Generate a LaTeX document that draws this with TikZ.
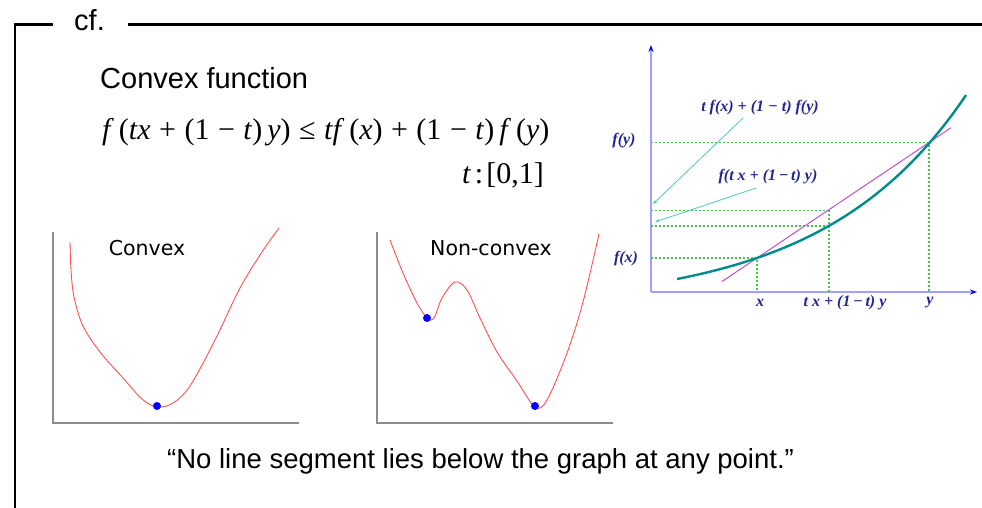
\documentclass[tikz,border=0pt]{standalone}
\usepackage{fontspec}
\setmainfont{Liberation Sans}
\newfontfamily\tnr{Liberation Serif}
\newfontfamily\verd{DejaVu Sans}
\usetikzlibrary{arrows.meta,calc}
\definecolor{navyl}{RGB}{35,35,145}
\definecolor{tealc}{RGB}{0,140,140}
\definecolor{arrc}{RGB}{80,195,195}
\definecolor{magc}{RGB}{195,80,195}
\definecolor{dotg}{RGB}{70,200,70}
\definecolor{axb}{RGB}{160,160,255}
\definecolor{redc}{RGB}{255,80,80}
\newcommand{\opgap}{\hspace{8.5pt}}
\newcommand{\smgap}{\hspace{5pt}}
\begin{document}
\begin{tikzpicture}[x=1pt,y=-1pt,
  frameline/.style={line width=2.7pt,black},
  smallaxis/.style={draw=black!45,line width=1.1pt},
  redcurve/.style={draw=redc,line width=0.9pt},
  mindot/.style={circle,fill=blue,inner sep=0pt,minimum size=8pt},
  plotlabel/.style={font=\verd\fontsize{20.5}{24}\selectfont},
  bluaxis/.style={draw=axb,line width=1.3pt,-{Stealth[length=7pt,width=5pt,color=blue]}},
  greendot/.style={draw=dotg,line width=1.2pt,dash pattern=on 2pt off 2pt},
  gl/.style={text=navyl,font=\tnr\bfseries\itshape\fontsize{16}{18}\selectfont,inner sep=0pt},
  ptr/.style={draw=arrc,line width=0.8pt,-{Stealth[length=4.5pt,width=3.5pt]}}]
\useasboundingbox (0,0) rectangle (982,507);
% frame
\node[anchor=base west,font=\fontsize{29}{32}\selectfont,inner sep=0pt] (cf) at (74,30) {cf.};
\draw[frameline] (53,24.5) -- (15,24.5) -- (15,510);
\draw[frameline] (128,24.5) -- (985,24.5);
% heading and formula
\node[anchor=base west,font=\fontsize{29}{32}\selectfont,inner sep=0pt] (title) at (100,88) {Convex function};
\node[anchor=base west,font=\tnr\fontsize{30}{32}\selectfont,inner sep=0pt] (formula) at (102,139)
  {\textit{f}\smgap(\textit{tx}\opgap+\opgap(1\opgap−\opgap\textit{t})\smgap\textit{y})\opgap≤\opgap\textit{tf}\smgap(\textit{x})\opgap+\opgap(1\opgap−\opgap\textit{t})\smgap\textit{f}\smgap(\textit{y})};
\node[anchor=base east,font=\tnr\fontsize{30}{32}\selectfont,inner sep=0pt] (range) at (544,183)
  {\textit{t}\hspace{4pt}:\hspace{3pt}[0,1]};
% convex plot
\draw[smallaxis] (53,232) -- (53,423) -- (299,423);
\draw[redcurve] plot[smooth,tension=0.55] coordinates {(70,242) (71,270) (74,297) (83,326) (100,352) (123,378) (142,399) (157,407) (173,403) (190,386) (215,340) (240,288) (262,252) (279,228)};
\node[mindot] (m1) at (157,406) {};
\node[plotlabel] (lconv) at (147,248) {Convex};
% non-convex plot
\draw[smallaxis] (377,232) -- (377,423) -- (613,423);
\draw[redcurve] plot[smooth,tension=0.55] coordinates {(390,240) (403,273) (417,303) (427,318) (434,318) (442,298) (455,282) (467,290) (480,318) (497,352) (517,381) (535,407) (547,400) (567,353) (583,302) (599,234)};
\node[mindot] (m2) at (427,318) {};
\node[mindot] (m3) at (535,406) {};
\node[plotlabel] (lnon) at (491,248) {Non-convex};
% right graph
\coordinate (O) at (651,292);
\coordinate (ytop) at (651,45);
\coordinate (xend) at (977,292);
\draw[bluaxis] (O) -- (ytop);
\draw[bluaxis] (O) -- (xend);
\coordinate (px) at (757,258);
\coordinate (py) at (929,142.5);
\coordinate (pm) at (829,210.1);
\coordinate (pc) at (829,225.9);
\draw[greendot] (651,142.5) -- (py) -- (929,292);
\draw[greendot] (651,258) -- (px) -- (757,292);
\draw[greendot] (651,210.1) -- (pm);
\draw[greendot] (651,225.9) -- (pc);
\draw[greendot] (pm) -- (829,292);
\draw[draw=magc,line width=1pt] ($(px)!-0.2035!(py)$) -- ($(px)!1.128!(py)$);
\draw[draw=tealc,line width=2.4pt] plot[domain=677:966,samples=80] (\x,{307-28*exp(0.007*(\x-677))});
\node[gl] (lfy) at (624,141) {f(y)};
\node[gl] (lfx) at (626,259) {f(x)};
\node[gl] (lx) at (760,303) {x};
\node[gl] (lmid) at (845,303) {t x + (1\,−\,t) y};
\node[gl] (ly) at (930,303) {y};
\node[gl] (lcomb) at (760,108) {t f(x) + (1 − t) f(y)};
\node[gl] (lfmid) at (768,177) {f(t x + (1\,−\,t) y)};
\coordinate (e1) at (653,204);
\coordinate (e2) at (655,222);
\draw[ptr] (743,118) -- (e1);
\draw[ptr] (756,188) -- (e2);
% quote
\node[anchor=base west,font=\fontsize{27.5}{30}\selectfont,inner sep=0pt] (quote) at (167,468)
  {“No line segment lies below the graph at any point.”};
\end{tikzpicture}
\end{document}
